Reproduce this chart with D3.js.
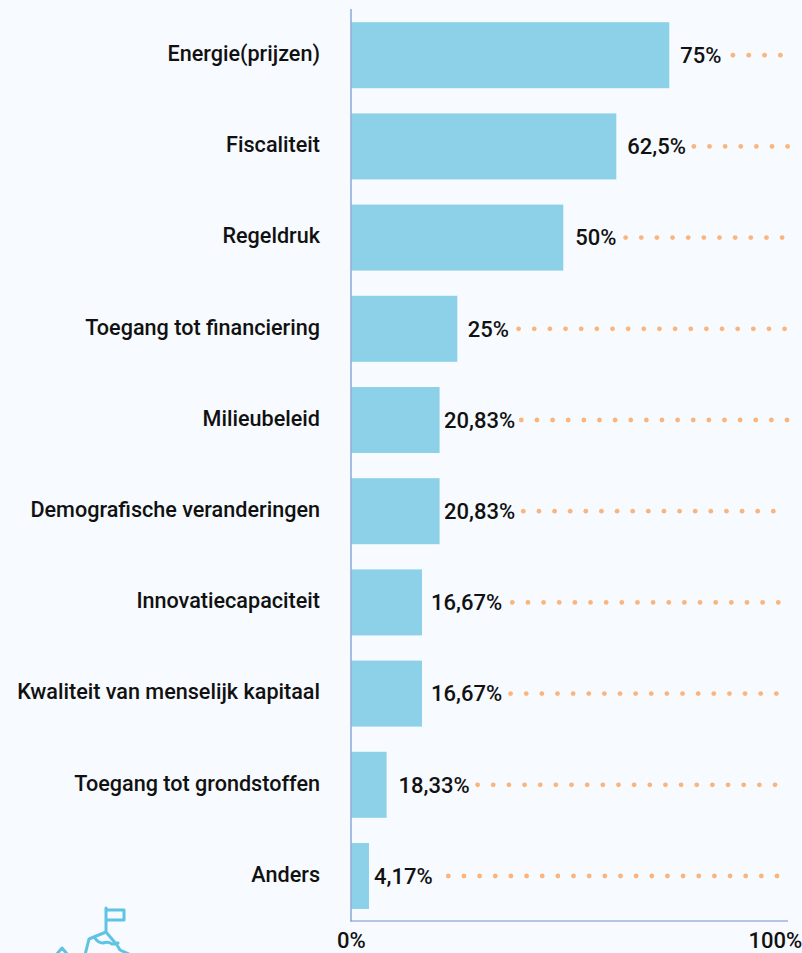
<!DOCTYPE html>
<html><head><meta charset="utf-8">
<script src="https://cdn.jsdelivr.net/npm/d3@7"></script>
<style>html,body{margin:0;padding:0;background:#f7fbff;overflow:hidden}</style>
</head><body><div id="chart"></div>
<script>
const categories = ["Energie(prijzen)","Fiscaliteit","Regeldruk","Toegang tot financiering","Milieubeleid","Demografische veranderingen","Innovatiecapaciteit","Kwaliteit van menselijk kapitaal","Toegang tot grondstoffen","Anders"];
const values = [75,62.5,50,25,20.83,20.83,16.67,16.67,8.33,4.17];
const valueLabels = ["75%","62,5%","50%","25%","20,83%","20,83%","16,67%","16,67%","18,33%","4,17%"];
const labelGap = [11,11,12,10.5,4.5,4.5,9,9,12,5];
const tickValues = [0,100];
const tickLabels = ["0%","100%"];
// dotted leaders: start, end in axis percent, and number of dots
const dotStart = [90.0,80.8,64.7,39.46,40.1,40.57,37.97,37.57,29.79,22.88];
const dotEnd = [101.2,102.9,101.6,102.2,102.76,99.53,100.7,100.24,99.93,100.4];
const dotCount = [4,7,11,18,18,17,18,18,20,22];

const W=802,H=953, font="Roboto, sans-serif";
const svg=d3.select("#chart").append("svg").attr("width",W).attr("height",H).style("display","block");
svg.append("rect").attr("width",W).attr("height",H).attr("fill","#f7fbff");
const x=d3.scaleLinear().domain([0,100]).range([351.3,775.3]);
const y=d3.scaleBand().domain(categories).range([9.6,921.6]).paddingInner(0.276).paddingOuter(0.138);

svg.selectAll("rect.bar").data(categories).join("rect").attr("class","bar")
 .attr("x",x(0)).attr("y",d=>y(d)).attr("height",y.bandwidth())
 .attr("width",(d,i)=>x(values[i])-x(0)).attr("fill","#8dd1e8");

svg.append("line").attr("x1",351).attr("x2",351).attr("y1",9).attr("y2",921.5).attr("stroke","#8aa9d6").attr("stroke-width",1.5);
svg.append("line").attr("x1",350.5).attr("x2",788).attr("y1",921).attr("y2",921).attr("stroke","#6f93c9").attr("stroke-width",1);

const text=(g,size)=>g.attr("font-family",font).attr("font-weight",500).attr("font-size",size).attr("fill","#111");

text(svg.selectAll("text.cat").data(categories).join("text").attr("class","cat"),21.6)
 .attr("x",320).attr("y",d=>y(d)+y.bandwidth()/2-1.7).attr("dy","0.35em").attr("text-anchor","end").text(d=>d);

text(svg.selectAll("text.val").data(categories).join("text").attr("class","val"),22)
 .attr("x",(d,i)=>x(values[i])+labelGap[i])
 .attr("y",d=>y(d)+y.bandwidth()/2).attr("dy","0.35em").text((d,i)=>valueLabels[i]);

categories.forEach((c,i)=>{
  const s=x(dotStart[i]),e=x(dotEnd[i]),n=dotCount[i];
  svg.append("g").selectAll("circle").data(d3.range(n)).join("circle")
   .attr("cx",k=>s+(e-s)*k/(n-1)).attr("cy",y(c)+y.bandwidth()/2).attr("r",2.4).attr("fill","#fbb57c");
});

text(svg.selectAll("text.tick").data(tickValues).join("text").attr("class","tick"),22)
 .attr("x",d=>x(d)).attr("y",948).attr("text-anchor","middle").text((d,i)=>tickLabels[i]);

const ic=svg.append("g").attr("fill","none").attr("stroke","#5fc3e4").attr("stroke-width",3).attr("stroke-linejoin","round").attr("stroke-linecap","round");
ic.append("path").attr("d","M106 908V932M106 910H124V920H106");
ic.append("path").attr("d","M85 955L89 939L106 932L117 945L120 950L131 955M95 938Q98 943 103 943Q108 941 112 944Q115 944 118 943");
ic.append("path").attr("d","M56 955L62 948L68 955");
</script></body></html>
